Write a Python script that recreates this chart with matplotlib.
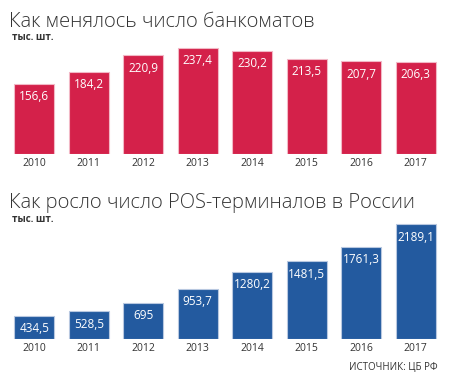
import matplotlib
matplotlib.use("Agg")
import matplotlib.pyplot as plt

years = ["2010", "2011", "2012", "2013", "2014", "2015", "2016", "2017"]
atm_values = [156.6, 184.2, 220.9, 237.4, 230.2, 213.5, 207.7, 206.3]
atm_labels = ["156,6", "184,2", "220,9", "237,4", "230,2", "213,5", "207,7", "206,3"]
pos_values = [434.5, 528.5, 695, 953.7, 1280.2, 1481.5, 1761.3, 2189.1]
pos_labels = ["434,5", "528,5", "695", "953,7", "1280,2", "1481,5", "1761,3", "2189,1"]

title_atm = "Как менялось число банкоматов"
title_pos = "Как росло число POS-терминалов в России"
unit = "тыс. шт."
source = "ИСТОЧНИК: ЦБ РФ"

plt.rcParams['font.family'] = ['Open Sans', 'DejaVu Sans']

W, H = 449, 380
fig = plt.figure(figsize=(W / 100, H / 100), dpi=100)
fig.patch.set_facecolor("white")

def px_axes(x0, y0, x1, y1):
    return fig.add_axes([x0 / W, 1 - y1 / H, (x1 - x0) / W, (y1 - y0) / H])

def draw(ax, values, labels, color, edge, ymax):
    x = list(range(len(values)))
    ax.bar(x, values, width=0.73, color=color, edgecolor=edge, linewidth=0.8)
    ax.set_xlim(-0.5, len(values) - 0.5)
    ax.set_ylim(0, ymax)
    for xi, v, lab in zip(x, values, labels):
        ax.annotate(lab, (xi, v), xytext=(0, -4.5), textcoords="offset points",
                    ha="center", va="top", color="white", fontsize=8.5)
    ax.set_xticks(x)
    ax.set_xticklabels(years, fontsize=7.5, color="#333333")
    ax.tick_params(axis="x", length=0, pad=3)
    ax.set_yticks([])
    for s in ax.spines.values():
        s.set_visible(False)
    ax.set_facecolor("none")

ax1 = px_axes(7, 40, 443, 154)
draw(ax1, atm_values, atm_labels, "#D4214A", "#F2B8C6", 255.3)

ax2 = px_axes(7, 220, 443, 339)
draw(ax2, pos_values, pos_labels, "#235A9F", "#B8C8E0", 2271)

fig.text(9 / W, 1 - 27 / H, title_atm, fontsize=14.5, fontweight="light",
         color="#333333", ha="left", va="baseline")
fig.text(12 / W, 1 - 38 / H, unit, fontsize=7, fontweight="bold",
         color="#333333", ha="left", va="center")
fig.text(9 / W, 1 - 208 / H, title_pos, fontsize=14.5, fontweight="light",
         color="#333333", ha="left", va="baseline")
fig.text(12 / W, 1 - 220 / H, unit, fontsize=7, fontweight="bold",
         color="#333333", ha="left", va="center")
fig.text(438 / W, 1 - 367 / H, source, fontsize=7, color="#333333",
         ha="right", va="center")

fig.savefig("out.png", dpi=100, facecolor="white")
